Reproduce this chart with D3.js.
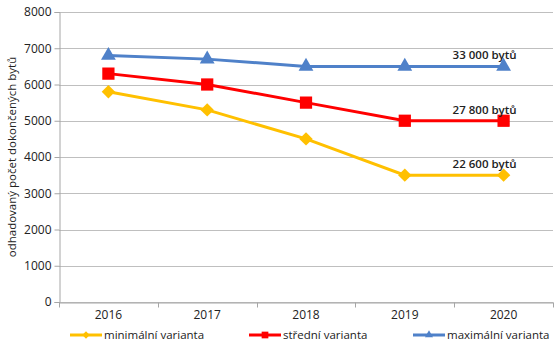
<!DOCTYPE html>
<html>
<head>
<meta charset="utf-8">
<script src="https://cdn.jsdelivr.net/npm/d3@7"></script>
<style>
  body { margin: 0; background: #fff; }
  text { font-family: "Open Sans", "DejaVu Sans", sans-serif; fill: #222; }
</style>
</head>
<body>
<div id="chart"></div>
<script>
const width = 560;
const height = 345;
const marginTop = 12;
const marginRight = 7;
const marginBottom = 43;
const marginLeft = 59;

// Data
const years = ['2016', '2017', '2018', '2019', '2020'];
const minValues = [5800, 5300, 4500, 3500, 3500];
const midValues = [6300, 6000, 5500, 5000, 5000];
const maxValues = [6800, 6700, 6500, 6500, 6500];
const seriesNames = ['minimální varianta', 'střední varianta', 'maximální varianta'];
const endLabels = ['22 600 bytů', '27 800 bytů', '33 000 bytů'];
const yTicks = [0, 1000, 2000, 3000, 4000, 5000, 6000, 7000, 8000];

// marker: symbol type, size, rotation
const series = [
  { name: seriesNames[0], values: minValues, color: '#FFC000', symbol: d3.symbolSquare, size: 90, rot: 45, label: endLabels[0] },
  { name: seriesNames[1], values: midValues, color: '#FF0000', symbol: d3.symbolSquare, size: 150, rot: 0, label: endLabels[1] },
  { name: seriesNames[2], values: maxValues, color: '#4F81C9', symbol: d3.symbolTriangle, size: 95, rot: 0, label: endLabels[2] }
];

const svg = d3.select('#chart')
  .append('svg')
  .attr('width', width)
  .attr('height', height);

// X scale
const x = d3.scaleBand()
  .domain(years)
  .range([marginLeft, width - marginRight]);

// Y scale
const y = d3.scaleLinear()
  .domain([0, 8000])
  .range([height - marginBottom, marginTop]);

// Gridlines
svg.append('g')
  .selectAll('line')
  .data(yTicks)
  .join('line')
  .attr('x1', marginLeft)
  .attr('x2', width - marginRight)
  .attr('y1', d => Math.round(y(d)) + 0.5)
  .attr('y2', d => Math.round(y(d)) + 0.5)
  .attr('stroke', '#bfbfbf');

// Y axis
const yAxis = svg.append('g')
  .attr('transform', `translate(${marginLeft + 0.5},0)`)
  .call(d3.axisLeft(y).tickValues(yTicks).tickSize(5).tickPadding(3).tickFormat(d3.format('d')));
yAxis.selectAll('path, line').attr('stroke', '#a6a6a6');
yAxis.selectAll('text').style('font-size', '12px').attr('fill', '#222');

// X axis, ticks at band boundaries
const xAxis = svg.append('g')
  .attr('transform', `translate(0,${Math.round(y(0)) + 0.5})`)
  .call(d3.axisBottom(x).tickSize(0).tickPadding(8));
xAxis.select('path').attr('stroke', '#a6a6a6');
xAxis.selectAll('text').style('font-size', '12px').attr('fill', '#222');
xAxis.selectAll('.boundary')
  .data(years.map(d => x(d)).concat([x(years[years.length - 1]) + x.bandwidth()]))
  .join('line')
  .attr('class', 'boundary')
  .attr('x1', d => Math.round(d) + 0.5)
  .attr('x2', d => Math.round(d) + 0.5)
  .attr('y1', 0)
  .attr('y2', 5)
  .attr('stroke', '#a6a6a6');

const cx = d => x(d) + x.bandwidth() / 2;
const line = d3.line()
  .x((d, i) => cx(years[i]))
  .y(d => y(d));

// Lines and markers
series.forEach(s => {
  svg.append('path')
    .datum(s.values)
    .attr('fill', 'none')
    .attr('stroke', s.color)
    .attr('stroke-width', 3)
    .attr('d', line);

  svg.append('g')
    .selectAll('path')
    .data(s.values)
    .join('path')
    .attr('transform', (d, i) => `translate(${cx(years[i])},${y(d)}) rotate(${s.rot})`)
    .attr('d', d3.symbol().type(s.symbol).size(s.size))
    .attr('fill', s.color);

  // End label
  svg.append('text')
    .attr('x', cx(years[years.length - 1]) - 51)
    .attr('y', y(s.values[s.values.length - 1]) - 7)
    .style('font-size', '11.5px')
    .style('font-weight', '600')
    .text(s.label);
});

// Y axis label
svg.append('text')
  .attr('transform', 'rotate(-90)')
  .attr('x', -(marginTop + height - marginBottom) / 2)
  .attr('y', 16)
  .style('text-anchor', 'middle')
  .style('font-size', '11.5px')
  .text('odhadovaný počet dokončených bytů');

// Legend
const legendX = [70, 249, 413];
const legend = svg.append('g')
  .selectAll('g')
  .data(series)
  .join('g')
  .attr('transform', (d, i) => `translate(${legendX[i]},335)`);
legend.append('line')
  .attr('x1', 0)
  .attr('x2', 32)
  .attr('stroke', d => d.color)
  .attr('stroke-width', 3);
legend.append('path')
  .attr('transform', d => `translate(16,0) rotate(${d.rot})`)
  .attr('d', d => d3.symbol().type(d.symbol).size(d.size * 0.3)())
  .attr('fill', d => d.color);
legend.append('text')
  .attr('x', 34)
  .attr('dy', '0.35em')
  .style('font-size', '11.5px')
  .text(d => d.name);
</script>
</body>
</html>
